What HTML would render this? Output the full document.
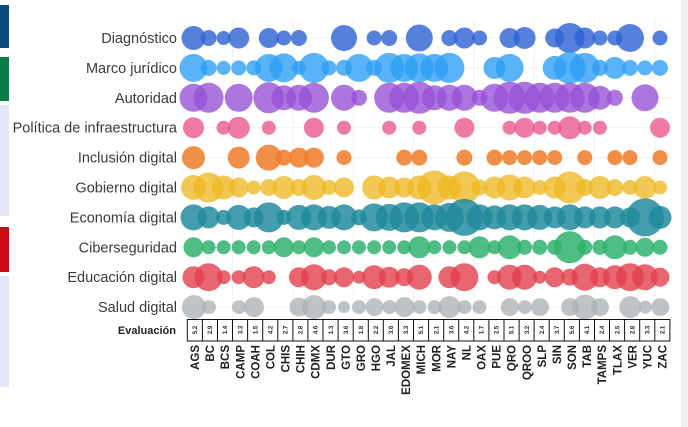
<!DOCTYPE html>
<html><head><meta charset="utf-8"><style>
html,body{margin:0;padding:0;background:#fff;}
svg{display:block;}
text{font-family:"Liberation Sans",Arial,sans-serif;}
</style></head><body>
<svg width="688" height="427" viewBox="0 0 688 427" xmlns="http://www.w3.org/2000/svg">
<rect width="688" height="427" fill="#fff"/>
<!-- side bars -->
<rect x="0" y="5" width="9" height="43" fill="#0b4a7d"/>
<rect x="0" y="57" width="9" height="44" fill="#0a7d46"/>
<rect x="0" y="105" width="9" height="111" fill="#e3e7f8"/>
<rect x="0" y="227" width="9" height="45" fill="#cf0a14"/>
<rect x="0" y="276" width="9" height="111" fill="#e3e7f8"/>
<rect x="681" y="0" width="7" height="427" fill="#eef0f6"/>
<!-- grid -->
<g stroke="#f0f0f0" stroke-width="1">
<line x1="180" x2="672" y1="38" y2="38"/><line x1="180" x2="672" y1="67.9" y2="67.9"/><line x1="180" x2="672" y1="97.8" y2="97.8"/><line x1="180" x2="672" y1="127.7" y2="127.7"/><line x1="180" x2="672" y1="157.6" y2="157.6"/><line x1="180" x2="672" y1="187.5" y2="187.5"/><line x1="180" x2="672" y1="217.4" y2="217.4"/><line x1="180" x2="672" y1="247.3" y2="247.3"/><line x1="180" x2="672" y1="277.2" y2="277.2"/><line x1="180" x2="672" y1="307.1" y2="307.1"/>
<line x1="232.5" x2="232.5" y1="20" y2="319"/><line x1="292.9" x2="292.9" y1="20" y2="319"/><line x1="353.2" x2="353.2" y1="20" y2="319"/><line x1="413.5" x2="413.5" y1="20" y2="319"/><line x1="473.8" x2="473.8" y1="20" y2="319"/><line x1="534.1" x2="534.1" y1="20" y2="319"/><line x1="594.5" x2="594.5" y1="20" y2="319"/><line x1="654.8" x2="654.8" y1="20" y2="319"/>
</g>
<!-- row labels -->
<g font-size="14.5" fill="#3a3a3a" text-anchor="end">
<text x="177" y="43">Diagnóstico</text>
<text x="177" y="72.9">Marco jurídico</text>
<text x="177" y="102.8">Autoridad</text>
<text x="177" y="132.7">Política de infraestructura</text>
<text x="177" y="162.6">Inclusión digital</text>
<text x="177" y="192.5">Gobierno digital</text>
<text x="177" y="222.4">Economía digital</text>
<text x="177" y="252.3">Ciberseguridad</text>
<text x="177" y="282.2">Educación digital</text>
<text x="177" y="312.1">Salud digital</text>
</g>
<text x="176" y="334" font-size="11" font-weight="bold" fill="#222" text-anchor="end">Evaluación</text>

<!-- Diagnóstico -->
<g fill="#2f64d4" fill-opacity=".82">
<circle cx="193.5" cy="38" r="12"/><circle cx="208.6" cy="38" r="8"/><circle cx="223.6" cy="38" r="7"/><circle cx="238.7" cy="38" r="10.5"/><circle cx="268.8" cy="38" r="10"/><circle cx="283.8" cy="38" r="7.5"/><circle cx="298.9" cy="38" r="8"/><circle cx="344" cy="38" r="13"/><circle cx="374.1" cy="38" r="7.5"/><circle cx="389.2" cy="38" r="8"/><circle cx="419.3" cy="38" r="13.5"/><circle cx="449.4" cy="38" r="8"/><circle cx="464.4" cy="38" r="10.5"/><circle cx="479.5" cy="38" r="7.5"/><circle cx="509.6" cy="38" r="10"/><circle cx="524.6" cy="38" r="11"/><circle cx="554.7" cy="38" r="9.5"/><circle cx="569.8" cy="38" r="15"/><circle cx="584.8" cy="38" r="10.5"/><circle cx="599.9" cy="38" r="7.5"/><circle cx="614.9" cy="38" r="7.5"/><circle cx="630" cy="38" r="14"/><circle cx="660" cy="38" r="7.5"/>
</g>
<!-- Marco jurídico -->
<g fill="#2b9df5" fill-opacity=".78">
<circle cx="193.5" cy="67.9" r="14"/><circle cx="208.6" cy="67.9" r="8"/><circle cx="223.6" cy="67.9" r="7"/><circle cx="238.7" cy="67.9" r="7.5"/><circle cx="253.7" cy="67.9" r="7.5"/><circle cx="268.8" cy="67.9" r="14"/><circle cx="283.8" cy="67.9" r="14.5"/><circle cx="298.9" cy="67.9" r="7"/><circle cx="313.9" cy="67.9" r="15"/><circle cx="329" cy="67.9" r="7.5"/><circle cx="344" cy="67.9" r="8"/><circle cx="359" cy="67.9" r="14"/><circle cx="374.1" cy="67.9" r="8"/><circle cx="389.2" cy="67.9" r="15"/><circle cx="404.2" cy="67.9" r="14"/><circle cx="419.3" cy="67.9" r="14.5"/><circle cx="434.3" cy="67.9" r="14"/><circle cx="449.4" cy="67.9" r="15"/><circle cx="494.5" cy="67.9" r="11"/><circle cx="509.6" cy="67.9" r="14"/><circle cx="554.7" cy="67.9" r="12"/><circle cx="569.8" cy="67.9" r="16"/><circle cx="584.8" cy="67.9" r="15"/><circle cx="599.9" cy="67.9" r="8"/><circle cx="614.9" cy="67.9" r="11"/><circle cx="630" cy="67.9" r="8"/><circle cx="645" cy="67.9" r="7.5"/><circle cx="660" cy="67.9" r="8"/>
</g>
<!-- Autoridad -->
<g fill="#9650d6" fill-opacity=".78">
<circle cx="193.5" cy="97.8" r="14"/><circle cx="208.6" cy="97.8" r="15"/><circle cx="238.7" cy="97.8" r="14"/><circle cx="268.8" cy="97.8" r="15.5"/><circle cx="283.8" cy="97.8" r="12.5"/><circle cx="298.9" cy="97.8" r="13"/><circle cx="313.9" cy="97.8" r="15"/><circle cx="344" cy="97.8" r="13"/><circle cx="359" cy="97.8" r="8"/><circle cx="389.2" cy="97.8" r="15"/><circle cx="404.2" cy="97.8" r="15"/><circle cx="419.3" cy="97.8" r="16"/><circle cx="434.3" cy="97.8" r="12.5"/><circle cx="449.4" cy="97.8" r="13"/><circle cx="464.4" cy="97.8" r="13"/><circle cx="479.5" cy="97.8" r="8"/><circle cx="494.5" cy="97.8" r="14"/><circle cx="509.6" cy="97.8" r="16"/><circle cx="524.6" cy="97.8" r="16"/><circle cx="539.7" cy="97.8" r="15"/><circle cx="554.7" cy="97.8" r="15"/><circle cx="569.8" cy="97.8" r="15"/><circle cx="584.8" cy="97.8" r="15"/><circle cx="599.9" cy="97.8" r="12"/><circle cx="614.9" cy="97.8" r="8"/><circle cx="645" cy="97.8" r="13.5"/>
</g>
<!-- Política -->
<g fill="#e85a8e" fill-opacity=".8">
<circle cx="193.5" cy="127.7" r="10.5"/><circle cx="223.6" cy="127.7" r="7"/><circle cx="238.7" cy="127.7" r="11"/><circle cx="268.8" cy="127.7" r="7"/><circle cx="313.9" cy="127.7" r="10"/><circle cx="344" cy="127.7" r="7"/><circle cx="389.2" cy="127.7" r="7"/><circle cx="419.3" cy="127.7" r="7"/><circle cx="464.4" cy="127.7" r="10"/><circle cx="509.6" cy="127.7" r="7"/><circle cx="524.6" cy="127.7" r="10"/><circle cx="539.7" cy="127.7" r="7"/><circle cx="554.7" cy="127.7" r="7"/><circle cx="569.8" cy="127.7" r="11.5"/><circle cx="584.8" cy="127.7" r="7"/><circle cx="599.9" cy="127.7" r="7"/><circle cx="660" cy="127.7" r="10"/>
</g>
<!-- Inclusión -->
<g fill="#ee7a28" fill-opacity=".85">
<circle cx="193.5" cy="157.6" r="11.5"/><circle cx="238.7" cy="157.6" r="11"/><circle cx="268.8" cy="157.6" r="13"/><circle cx="283.8" cy="157.6" r="8"/><circle cx="298.9" cy="157.6" r="10"/><circle cx="313.9" cy="157.6" r="10"/><circle cx="344" cy="157.6" r="7.5"/><circle cx="404.2" cy="157.6" r="8"/><circle cx="419.3" cy="157.6" r="8"/><circle cx="464.4" cy="157.6" r="8"/><circle cx="494.5" cy="157.6" r="8"/><circle cx="509.6" cy="157.6" r="7.5"/><circle cx="524.6" cy="157.6" r="7.5"/><circle cx="539.7" cy="157.6" r="7.5"/><circle cx="554.7" cy="157.6" r="7.5"/><circle cx="584.8" cy="157.6" r="7.5"/><circle cx="614.9" cy="157.6" r="7.5"/><circle cx="630" cy="157.6" r="7.5"/><circle cx="660" cy="157.6" r="7.5"/>
</g>
<!-- Gobierno -->
<g fill="#eeb824" fill-opacity=".78">
<circle cx="193.5" cy="187.5" r="12.5"/><circle cx="208.6" cy="187.5" r="15"/><circle cx="223.6" cy="187.5" r="12"/><circle cx="238.7" cy="187.5" r="10"/><circle cx="253.7" cy="187.5" r="7"/><circle cx="268.8" cy="187.5" r="8.5"/><circle cx="283.8" cy="187.5" r="11.5"/><circle cx="298.9" cy="187.5" r="8.5"/><circle cx="313.9" cy="187.5" r="12.5"/><circle cx="329" cy="187.5" r="7.5"/><circle cx="344" cy="187.5" r="10"/><circle cx="374.1" cy="187.5" r="12"/><circle cx="389.2" cy="187.5" r="11"/><circle cx="404.2" cy="187.5" r="10"/><circle cx="419.3" cy="187.5" r="12"/><circle cx="434.3" cy="187.5" r="17"/><circle cx="449.4" cy="187.5" r="12"/><circle cx="464.4" cy="187.5" r="16"/><circle cx="479.5" cy="187.5" r="8"/><circle cx="494.5" cy="187.5" r="11"/><circle cx="509.6" cy="187.5" r="13"/><circle cx="524.6" cy="187.5" r="11"/><circle cx="539.7" cy="187.5" r="7.5"/><circle cx="554.7" cy="187.5" r="11"/><circle cx="569.8" cy="187.5" r="16"/><circle cx="584.8" cy="187.5" r="8.5"/><circle cx="599.9" cy="187.5" r="11.5"/><circle cx="614.9" cy="187.5" r="8.5"/><circle cx="630" cy="187.5" r="7.5"/><circle cx="645" cy="187.5" r="11.5"/><circle cx="660" cy="187.5" r="7"/>
</g>
<!-- Economía -->
<g fill="#208a9c" fill-opacity=".84">
<circle cx="193.5" cy="217.4" r="13"/><circle cx="208.6" cy="217.4" r="11"/><circle cx="223.6" cy="217.4" r="7.5"/><circle cx="238.7" cy="217.4" r="12.5"/><circle cx="253.7" cy="217.4" r="10"/><circle cx="268.8" cy="217.4" r="15"/><circle cx="283.8" cy="217.4" r="7.5"/><circle cx="298.9" cy="217.4" r="12.5"/><circle cx="313.9" cy="217.4" r="13"/><circle cx="329" cy="217.4" r="11.5"/><circle cx="344" cy="217.4" r="13"/><circle cx="359" cy="217.4" r="8"/><circle cx="374.1" cy="217.4" r="14"/><circle cx="389.2" cy="217.4" r="13.5"/><circle cx="404.2" cy="217.4" r="15"/><circle cx="419.3" cy="217.4" r="15"/><circle cx="434.3" cy="217.4" r="13"/><circle cx="449.4" cy="217.4" r="14.5"/><circle cx="464.4" cy="217.4" r="18.5"/><circle cx="479.5" cy="217.4" r="13"/><circle cx="494.5" cy="217.4" r="12"/><circle cx="509.6" cy="217.4" r="13"/><circle cx="524.6" cy="217.4" r="13"/><circle cx="539.7" cy="217.4" r="12.5"/><circle cx="554.7" cy="217.4" r="11"/><circle cx="569.8" cy="217.4" r="13"/><circle cx="584.8" cy="217.4" r="11"/><circle cx="599.9" cy="217.4" r="11"/><circle cx="614.9" cy="217.4" r="11"/><circle cx="630" cy="217.4" r="10"/><circle cx="645" cy="217.4" r="19"/><circle cx="660" cy="217.4" r="11.5"/>
</g>
<!-- Ciberseguridad -->
<g fill="#2db06c" fill-opacity=".84">
<circle cx="193.5" cy="247.3" r="10"/><circle cx="208.6" cy="247.3" r="7"/><circle cx="223.6" cy="247.3" r="7"/><circle cx="238.7" cy="247.3" r="7"/><circle cx="253.7" cy="247.3" r="7"/><circle cx="268.8" cy="247.3" r="7"/><circle cx="283.8" cy="247.3" r="10"/><circle cx="298.9" cy="247.3" r="7"/><circle cx="313.9" cy="247.3" r="10"/><circle cx="329" cy="247.3" r="7"/><circle cx="344" cy="247.3" r="7"/><circle cx="359" cy="247.3" r="7"/><circle cx="374.1" cy="247.3" r="7"/><circle cx="389.2" cy="247.3" r="7"/><circle cx="404.2" cy="247.3" r="7"/><circle cx="419.3" cy="247.3" r="11"/><circle cx="434.3" cy="247.3" r="7"/><circle cx="449.4" cy="247.3" r="7"/><circle cx="464.4" cy="247.3" r="7"/><circle cx="479.5" cy="247.3" r="11"/><circle cx="494.5" cy="247.3" r="7"/><circle cx="509.6" cy="247.3" r="12"/><circle cx="524.6" cy="247.3" r="7.5"/><circle cx="539.7" cy="247.3" r="7.5"/><circle cx="554.7" cy="247.3" r="7.5"/><circle cx="569.8" cy="247.3" r="16"/><circle cx="584.8" cy="247.3" r="7.5"/><circle cx="599.9" cy="247.3" r="7.5"/><circle cx="614.9" cy="247.3" r="12"/><circle cx="630" cy="247.3" r="7.5"/><circle cx="645" cy="247.3" r="9.5"/><circle cx="660" cy="247.3" r="7.5"/>
</g>
<!-- Educación -->
<g fill="#e1404c" fill-opacity=".8">
<circle cx="193.5" cy="277.2" r="11"/><circle cx="208.6" cy="277.2" r="14"/><circle cx="223.6" cy="277.2" r="7"/><circle cx="238.7" cy="277.2" r="7"/><circle cx="253.7" cy="277.2" r="11"/><circle cx="268.8" cy="277.2" r="7"/><circle cx="298.9" cy="277.2" r="10"/><circle cx="313.9" cy="277.2" r="13"/><circle cx="329" cy="277.2" r="8"/><circle cx="344" cy="277.2" r="10"/><circle cx="359" cy="277.2" r="6.5"/><circle cx="374.1" cy="277.2" r="12"/><circle cx="389.2" cy="277.2" r="10.5"/><circle cx="404.2" cy="277.2" r="9"/><circle cx="419.3" cy="277.2" r="12.5"/><circle cx="449.4" cy="277.2" r="11"/><circle cx="464.4" cy="277.2" r="14"/><circle cx="494.5" cy="277.2" r="7"/><circle cx="509.6" cy="277.2" r="12.5"/><circle cx="524.6" cy="277.2" r="12.5"/><circle cx="539.7" cy="277.2" r="6.5"/><circle cx="554.7" cy="277.2" r="10"/><circle cx="569.8" cy="277.2" r="8.5"/><circle cx="584.8" cy="277.2" r="13.5"/><circle cx="599.9" cy="277.2" r="10"/><circle cx="614.9" cy="277.2" r="12"/><circle cx="630" cy="277.2" r="14"/><circle cx="645" cy="277.2" r="13"/><circle cx="660" cy="277.2" r="9.5"/>
</g>
<!-- Salud -->
<g fill="#a9afb3" fill-opacity=".75">
<circle cx="194" cy="307.1" r="12"/><circle cx="209" cy="307.1" r="7"/><circle cx="239" cy="307.1" r="7"/><circle cx="254" cy="307.1" r="10"/><circle cx="299" cy="307.1" r="9.5"/><circle cx="314" cy="307.1" r="12"/><circle cx="329" cy="307.1" r="7"/><circle cx="344" cy="307.1" r="6"/><circle cx="359" cy="307.1" r="7"/><circle cx="374.5" cy="307.1" r="9"/><circle cx="389.5" cy="307.1" r="7"/><circle cx="404.5" cy="307.1" r="10"/><circle cx="419.5" cy="307.1" r="7"/><circle cx="434.5" cy="307.1" r="7"/><circle cx="449.5" cy="307.1" r="11"/><circle cx="464.5" cy="307.1" r="7"/><circle cx="479.5" cy="307.1" r="7"/><circle cx="509.8" cy="307.1" r="9"/><circle cx="524.8" cy="307.1" r="7"/><circle cx="540" cy="307.1" r="9"/><circle cx="570" cy="307.1" r="9"/><circle cx="585" cy="307.1" r="12.5"/><circle cx="600" cy="307.1" r="9"/><circle cx="630.3" cy="307.1" r="11"/><circle cx="645.3" cy="307.1" r="6.5"/><circle cx="660.3" cy="307.1" r="9"/>
</g>

<!-- Evaluación boxes -->
<g stroke="#111" stroke-width="1" fill="none">
<rect x="187.3" y="319.5" width="482.6" height="21.5"/>
<path d="M202.4 319.5V341M217.5 319.5V341M232.5 319.5V341M247.6 319.5V341M262.7 319.5V341M277.8 319.5V341M292.9 319.5V341M307.9 319.5V341M323 319.5V341M338.1 319.5V341M353.2 319.5V341M368.3 319.5V341M383.3 319.5V341M398.4 319.5V341M413.5 319.5V341M428.6 319.5V341M443.7 319.5V341M458.7 319.5V341M473.8 319.5V341M488.9 319.5V341M504 319.5V341M519.1 319.5V341M534.1 319.5V341M549.2 319.5V341M564.3 319.5V341M579.4 319.5V341M594.5 319.5V341M609.5 319.5V341M624.6 319.5V341M639.7 319.5V341M654.8 319.5V341"/>
</g>
<g font-size="6" font-weight="bold" fill="#222" text-anchor="middle">
<text transform="translate(197,330) rotate(-90)">5.2</text>
<text transform="translate(212.1,330) rotate(-90)">2.9</text>
<text transform="translate(227.2,330) rotate(-90)">1.4</text>
<text transform="translate(242.3,330) rotate(-90)">3.3</text>
<text transform="translate(257.4,330) rotate(-90)">1.5</text>
<text transform="translate(272.4,330) rotate(-90)">4.2</text>
<text transform="translate(287.5,330) rotate(-90)">2.7</text>
<text transform="translate(302.6,330) rotate(-90)">2.8</text>
<text transform="translate(317.7,330) rotate(-90)">4.6</text>
<text transform="translate(332.8,330) rotate(-90)">1.3</text>
<text transform="translate(347.8,330) rotate(-90)">3.6</text>
<text transform="translate(362.9,330) rotate(-90)">1.8</text>
<text transform="translate(378,330) rotate(-90)">2.2</text>
<text transform="translate(393.1,330) rotate(-90)">3.6</text>
<text transform="translate(408.2,330) rotate(-90)">3.3</text>
<text transform="translate(423.2,330) rotate(-90)">5.1</text>
<text transform="translate(438.3,330) rotate(-90)">2.1</text>
<text transform="translate(453.4,330) rotate(-90)">3.6</text>
<text transform="translate(468.5,330) rotate(-90)">4.2</text>
<text transform="translate(483.6,330) rotate(-90)">1.7</text>
<text transform="translate(498.6,330) rotate(-90)">2.5</text>
<text transform="translate(513.7,330) rotate(-90)">5.1</text>
<text transform="translate(528.8,330) rotate(-90)">3.2</text>
<text transform="translate(543.9,330) rotate(-90)">2.4</text>
<text transform="translate(559,330) rotate(-90)">3.7</text>
<text transform="translate(574,330) rotate(-90)">5.6</text>
<text transform="translate(589.1,330) rotate(-90)">4.1</text>
<text transform="translate(604.2,330) rotate(-90)">2.4</text>
<text transform="translate(619.3,330) rotate(-90)">2.5</text>
<text transform="translate(634.4,330) rotate(-90)">2.8</text>
<text transform="translate(649.4,330) rotate(-90)">3.3</text>
<text transform="translate(664.5,330) rotate(-90)">2.1</text>
</g>
<!-- state labels -->
<g font-size="11.5" font-weight="bold" fill="#1e1e1e" text-anchor="end">
<text transform="translate(199,345) rotate(-90)">AGS</text>
<text transform="translate(214.1,345) rotate(-90)">BC</text>
<text transform="translate(229.2,345) rotate(-90)">BCS</text>
<text transform="translate(244.3,345) rotate(-90)">CAMP</text>
<text transform="translate(259.4,345) rotate(-90)">COAH</text>
<text transform="translate(274.4,345) rotate(-90)">COL</text>
<text transform="translate(289.5,345) rotate(-90)">CHIS</text>
<text transform="translate(304.6,345) rotate(-90)">CHIH</text>
<text transform="translate(319.7,345) rotate(-90)">CDMX</text>
<text transform="translate(334.8,345) rotate(-90)">DUR</text>
<text transform="translate(349.8,345) rotate(-90)">GTO</text>
<text transform="translate(364.9,345) rotate(-90)">GRO</text>
<text transform="translate(380,345) rotate(-90)">HGO</text>
<text transform="translate(395.1,345) rotate(-90)">JAL</text>
<text transform="translate(410.2,345) rotate(-90)">EDOMEX</text>
<text transform="translate(425.2,345) rotate(-90)">MICH</text>
<text transform="translate(440.3,345) rotate(-90)">MOR</text>
<text transform="translate(455.4,345) rotate(-90)">NAY</text>
<text transform="translate(470.5,345) rotate(-90)">NL</text>
<text transform="translate(485.6,345) rotate(-90)">OAX</text>
<text transform="translate(500.6,345) rotate(-90)">PUE</text>
<text transform="translate(515.7,345) rotate(-90)">QRO</text>
<text transform="translate(530.8,345) rotate(-90)">QROO</text>
<text transform="translate(545.9,345) rotate(-90)">SLP</text>
<text transform="translate(561,345) rotate(-90)">SIN</text>
<text transform="translate(576,345) rotate(-90)">SON</text>
<text transform="translate(591.1,345) rotate(-90)">TAB</text>
<text transform="translate(606.2,345) rotate(-90)">TAMPS</text>
<text transform="translate(621.3,345) rotate(-90)">TLAX</text>
<text transform="translate(636.4,345) rotate(-90)">VER</text>
<text transform="translate(651.4,345) rotate(-90)">YUC</text>
<text transform="translate(666.5,345) rotate(-90)">ZAC</text>
</g>
</svg>
</body></html>
